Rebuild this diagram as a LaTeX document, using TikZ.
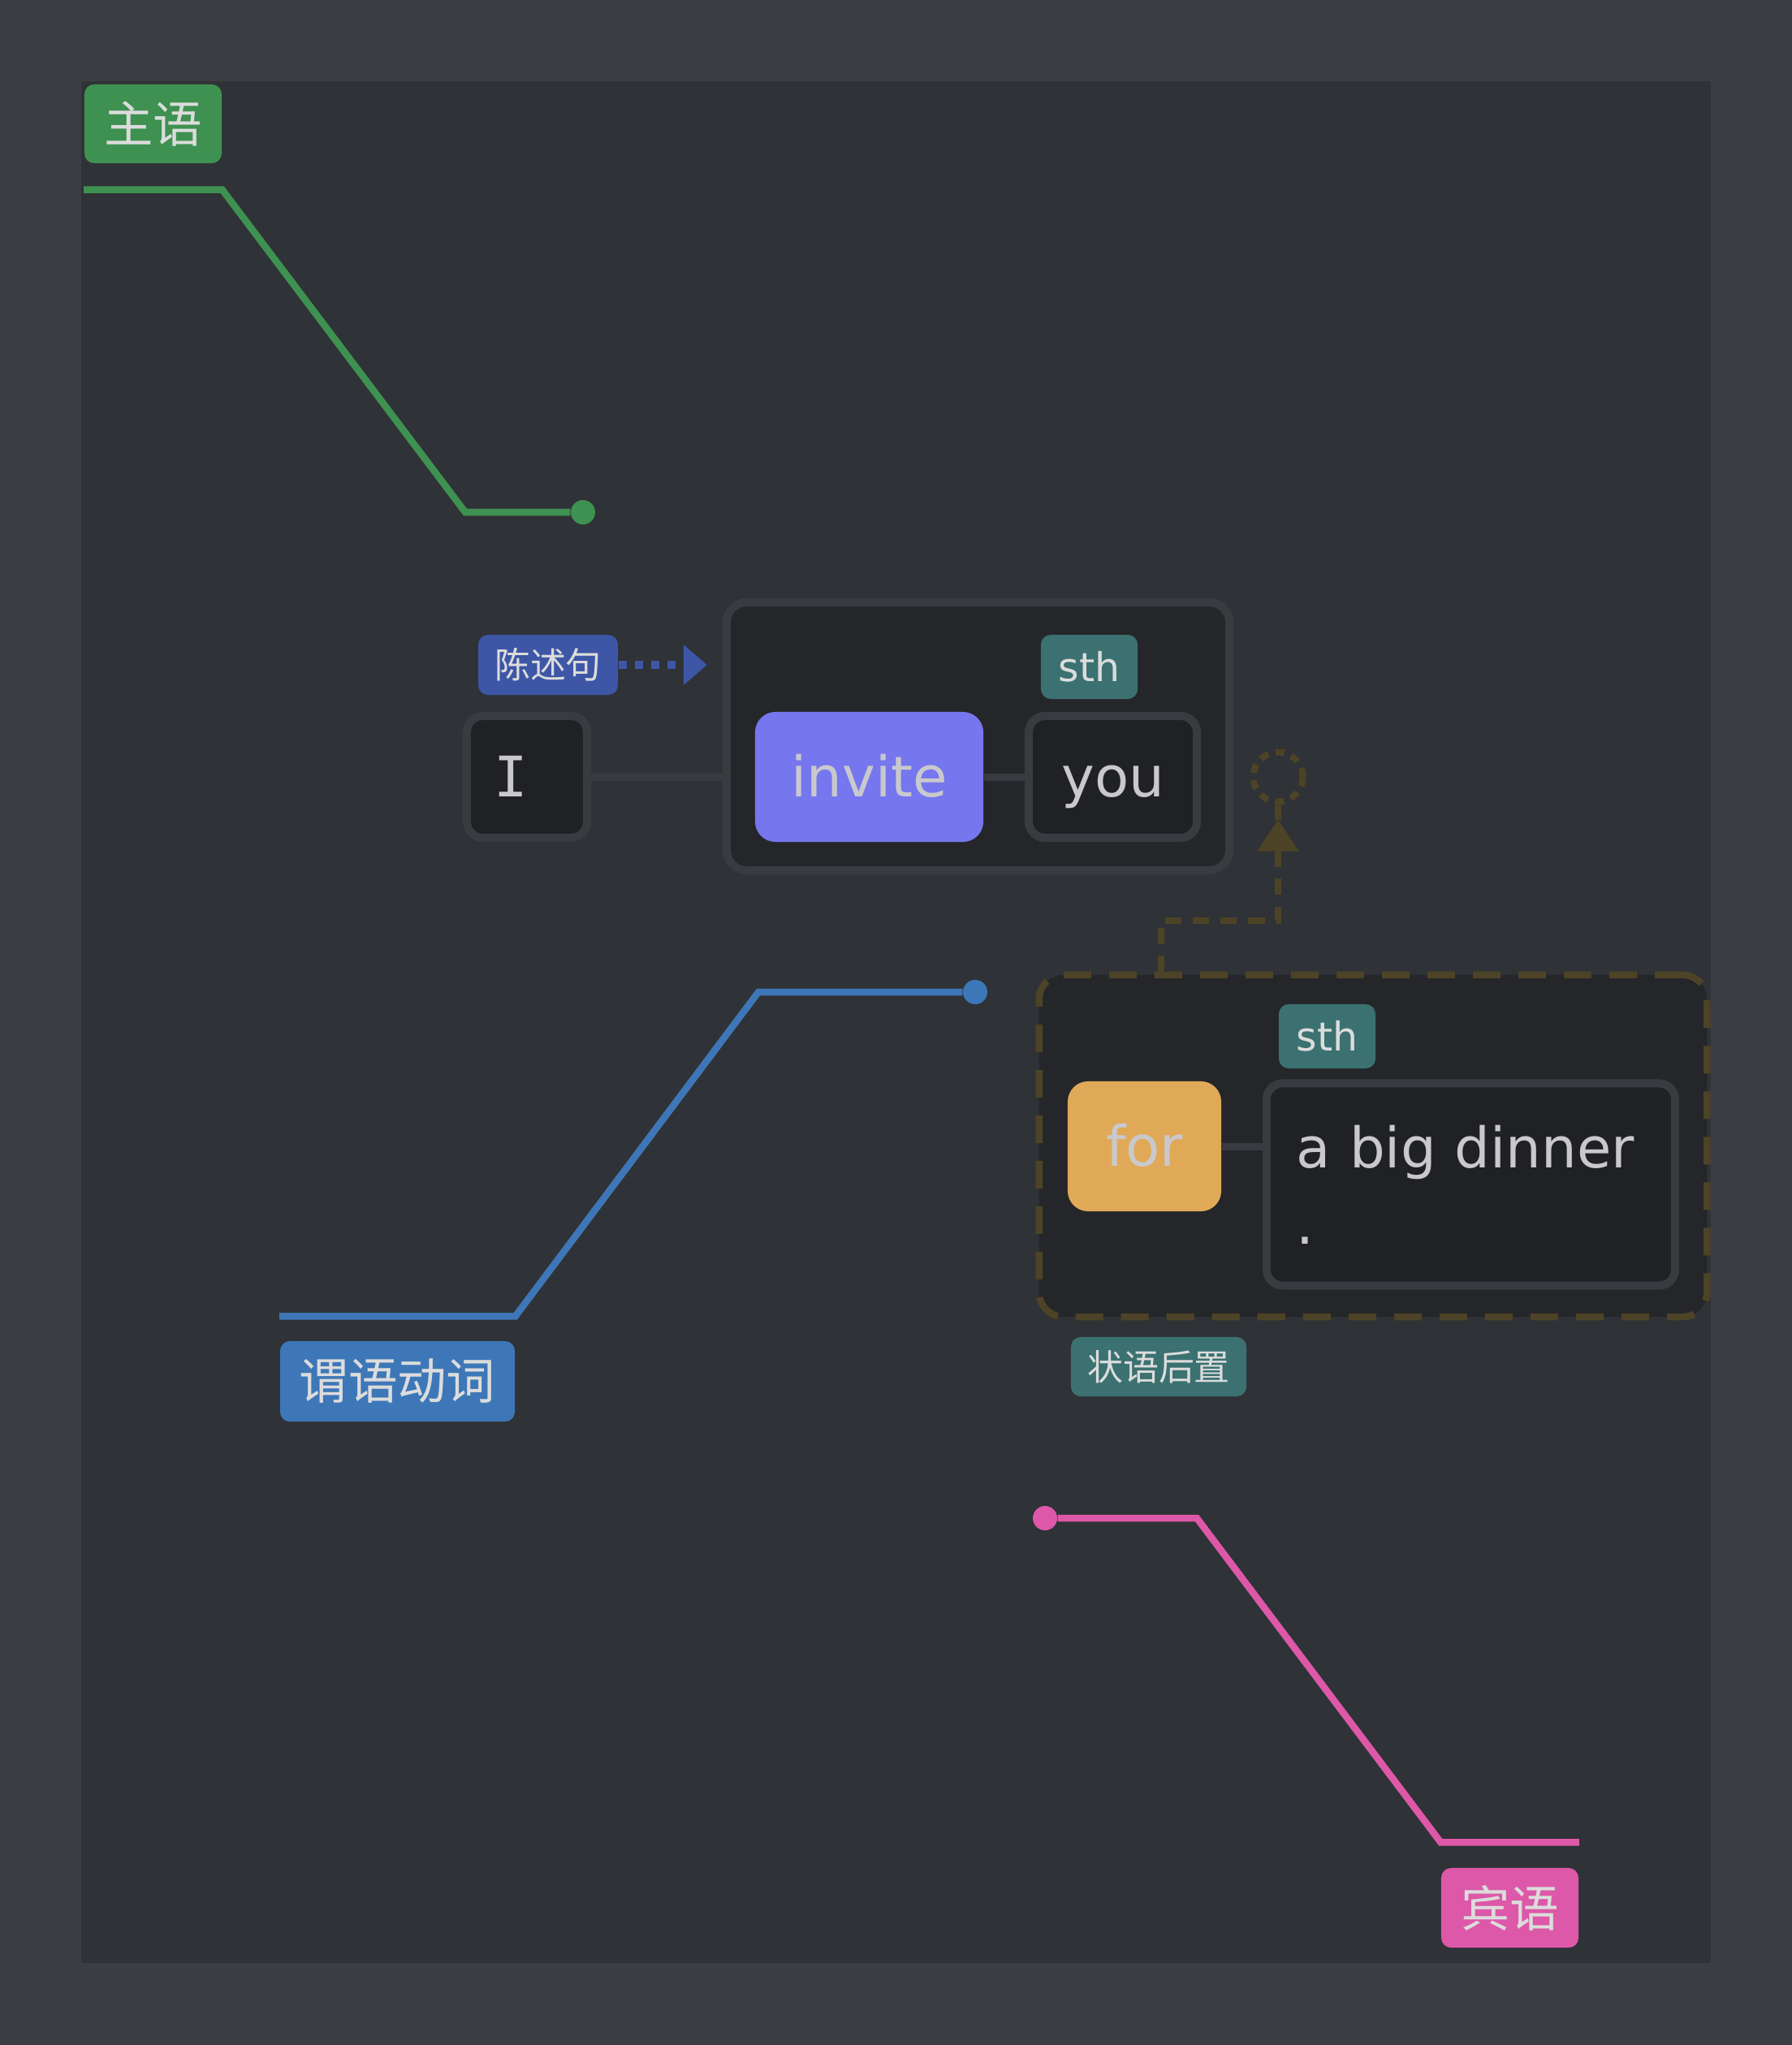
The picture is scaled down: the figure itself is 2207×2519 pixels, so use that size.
\documentclass[tikz,border=0pt]{standalone}
\usepackage{fontspec}
\setmainfont{DejaVu Sans}
\newfontfamily\cjkfont{Noto Sans CJK SC}
\newfontfamily\wordmono{DejaVu Sans Mono}
\usepackage{tikz}
\usetikzlibrary{arrows.meta, positioning}
\definecolor{bgouter}{HTML}{3B3F43}
\definecolor{bgpanel}{HTML}{2F3236}
\definecolor{clausefill}{HTML}{252629}
\definecolor{wordfill}{HTML}{202124}
\definecolor{edgegray}{HTML}{3A3B40}
\definecolor{wordtext}{HTML}{C9C9CD}
\definecolor{tagtext}{HTML}{DCDCDC}
\definecolor{subjgreen}{HTML}{3E9150}
\definecolor{predblue}{HTML}{3D77B8}
\definecolor{objpink}{HTML}{DD58A8}
\definecolor{stmtblue}{HTML}{3D56A6}
\definecolor{sthteal}{HTML}{3B7171}
\definecolor{invitepurple}{HTML}{7676EE}
\definecolor{forgold}{HTML}{E0A958}
\definecolor{advolive}{HTML}{4D4326}

\begin{document}
\begin{tikzpicture}[x=0.01cm, y=-0.01cm,
  wordfont/.style={text=wordtext, font=\fontsize{19.6}{26.7}\selectfont, inner sep=0pt},
  word/.style={wordfont, rounded corners=0.25cm, text height=0.5cm, text depth=0.02cm},
  wordframe/.style={draw=edgegray, line width=0.1cm, fill=wordfill, rounded corners=0.2cm},
  tag/.style={rounded corners=0.12cm, text=tagtext, inner sep=0pt},
  roletag/.style={tag, font=\cjkfont\fontsize{17.2}{20}\selectfont},
  smalltag/.style={tag, font=\cjkfont\fontsize{12.5}{15}\selectfont},
  sthtag/.style={tag, fill=sthteal, font=\fontsize{13.9}{16}\selectfont, minimum width=1.19cm, minimum height=0.79cm},
  link/.style={draw=edgegray, line width=0.09cm},
  roleline/.style={line width=0.085cm},
  roledot/.style={circle, inner sep=0pt, minimum size=0.3cm},
  advline/.style={draw=advolive, line width=0.085cm, dash pattern=on 0.2cm off 0.14cm}]
  \useasboundingbox (0,0) rectangle (2207,2519);
  \fill[bgouter] (0,0) rectangle (2207,2519);
  \fill[bgpanel] (100,100) rectangle (2107,2418);

  \node[draw=edgegray, line width=0.1cm, fill=clausefill, rounded corners=0.25cm, minimum width=6.19cm, minimum height=3.3cm] (clause) at (1204.5,907) {};
  \node[smalltag, fill=stmtblue, minimum width=1.72cm, minimum height=0.74cm] (stmt) at (675,819) {陈述句};
  \node[sthtag] (sthtop) at (1341.5,821.5) {sth};
  \node[word, wordframe, minimum width=1.48cm, minimum height=1.5cm] (subj) at (649,957) {{\wordmono I}\kern0.39cm};
  \node[word, fill=invitepurple, minimum width=2.81cm, minimum height=1.6cm] (verb) at (1070.5,957) {invite};
  \node[word, wordframe, minimum width=2.07cm, minimum height=1.5cm] (obj) at (1370.5,957) {you};
  \node[circle, draw=advolive, line width=0.08cm, dash pattern=on 0.11cm off 0.09cm, minimum size=0.61cm, inner sep=0pt] (advtarget) at (1574,957) {};

  \node[draw=advolive, line width=0.085cm, dash pattern=on 0.34cm off 0.22cm, fill=clausefill, rounded corners=0.3cm, minimum width=8.22cm, minimum height=4.21cm] (adv) at (1691,1411.5) {};
  \node[sthtag] (sthlow) at (1634.5,1276.5) {sth};
  \node[word, fill=forgold, minimum width=1.89cm, minimum height=1.6cm] (prep) at (1409.5,1412) {for};
  \node[wordfont, wordframe, align=left, text width=4.29cm, inner xsep=0.37cm, minimum height=2.49cm] (pobj) at (1811.5,1459) {a big dinner\\.};
  \node[smalltag, fill=sthteal, minimum width=2.16cm, minimum height=0.73cm] (advtag) at (1427,1683.5) {状语后置};

  \draw[link] (subj.east) -- (subj.east -| clause.west);
  \draw[link] (verb) -- (obj);
  \draw[link] (prep.east) -- (prep.east -| pobj.west);
  \draw[stmtblue, line width=0.09cm, dash pattern=on 0.1cm off 0.1cm, -{Triangle[length=0.29cm, width=0.48cm]}, shorten >=0.19cm] (stmt.east) -- (stmt.east -| clause.west);

  \coordinate (advbend) at (1430,1134);
  \draw[advline, -{Triangle[length=0.39cm, width=0.49cm]}, shorten >=0.18cm] (advbend |- adv.north) -- (advbend) -| (advtarget.south);
  \draw[advolive, line width=0.085cm] (advtarget.south) -- ([yshift=-0.18cm]advtarget.south);

  \node[roletag, fill=subjgreen, minimum width=1.69cm, minimum height=0.97cm] (subjtag) at (188.5,152.5) {主语};
  \node[roledot, fill=subjgreen] (subjdot) at (718,631) {};
  \coordinate (subjbend) at (573,631);
  \draw[roleline, subjgreen] ([yshift=-0.32cm]subjtag.south west) -- ([yshift=-0.32cm]subjtag.south east) -- (subjbend) -- (subjdot);

  \node[roletag, fill=predblue, minimum width=2.89cm, minimum height=0.99cm] (predtag) at (489.5,1701.5) {谓语动词};
  \node[roledot, fill=predblue] (preddot) at (1201,1222) {};
  \coordinate (predbend) at (934,1222);
  \draw[roleline, predblue] ([yshift=0.3cm]predtag.north west) -- ([yshift=0.3cm]predtag.north east) -- (predbend) -- (preddot);

  \node[roletag, fill=objpink, minimum width=1.69cm, minimum height=0.98cm] (objtag) at (1859.5,2350) {宾语};
  \node[roledot, fill=objpink] (objdot) at (1287,1870) {};
  \coordinate (objbend) at (1474,1870);
  \draw[roleline, objpink] (objdot) -- (objbend) -- ([yshift=0.31cm]objtag.north west) -- ([yshift=0.31cm]objtag.north east);
\end{tikzpicture}
\end{document}
